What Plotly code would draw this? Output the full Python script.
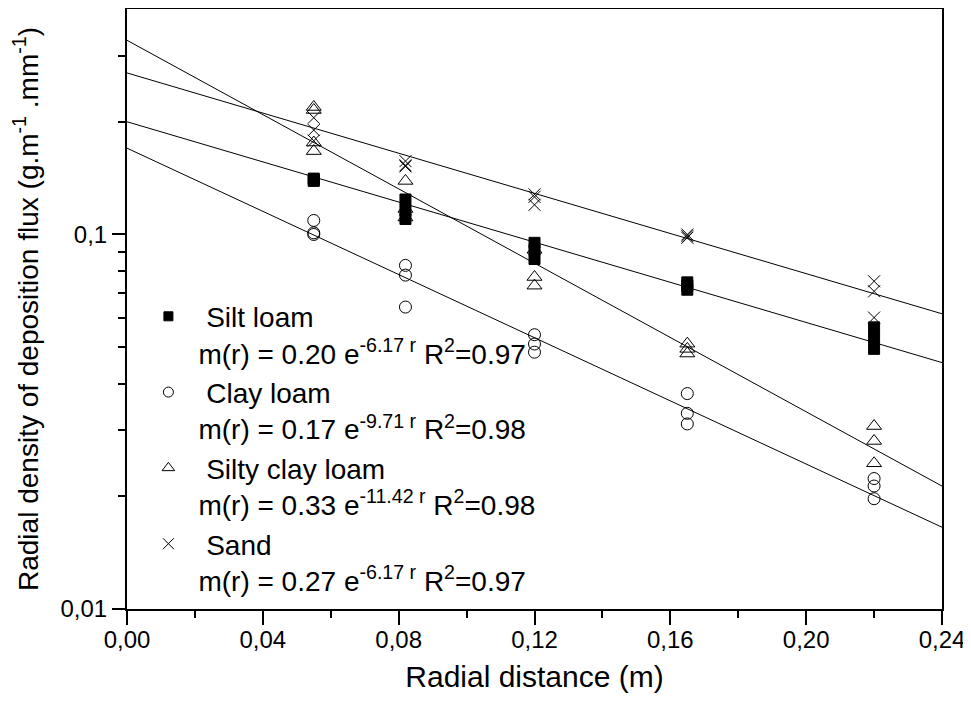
import numpy as np
import plotly.graph_objects as go

# ---- data ----
silt_r = [0.055, 0.055, 0.055, 0.082, 0.082, 0.082, 0.12, 0.12, 0.12, 0.165, 0.165, 0.165, 0.22, 0.22, 0.22]
silt_m = [0.141, 0.140, 0.139, 0.124, 0.116, 0.110, 0.095, 0.091, 0.086, 0.0745, 0.073, 0.0712, 0.0565, 0.053, 0.0495]

clay_r = [0.055, 0.055, 0.055, 0.082, 0.082, 0.082, 0.12, 0.12, 0.12, 0.165, 0.165, 0.165, 0.22, 0.22, 0.22]
clay_m = [0.109, 0.101, 0.100, 0.0827, 0.0779, 0.064, 0.054, 0.051, 0.0485, 0.0376, 0.0333, 0.0312, 0.0223, 0.0213, 0.0197]

scl_r = [0.055, 0.055, 0.055, 0.055, 0.082, 0.082, 0.082, 0.12, 0.12, 0.12, 0.165, 0.165, 0.165, 0.22, 0.22, 0.22]
scl_m = [0.219, 0.215, 0.176, 0.167, 0.139, 0.117, 0.111, 0.091, 0.077, 0.073, 0.0511, 0.0495, 0.0481, 0.0308, 0.0281, 0.0245]

sand_r = [0.055, 0.055, 0.055, 0.082, 0.082, 0.082, 0.12, 0.12, 0.12, 0.165, 0.165, 0.165, 0.22, 0.22, 0.22]
sand_m = [0.205, 0.190, 0.178, 0.157, 0.153, 0.152, 0.128, 0.126, 0.120, 0.100, 0.099, 0.098, 0.075, 0.0705, 0.060]

# fitted models m(r) = a * exp(-b r)
fit_names = ["Silt loam", "Clay loam", "Silty clay loam", "Sand"]
fit_a = [0.20, 0.17, 0.33, 0.27]
fit_b = [6.17, 9.71, 11.42, 6.17]
fit_r2 = [0.97, 0.98, 0.98, 0.97]
fit_range = [0.0, 0.24]

x_ticks = [0.0, 0.04, 0.08, 0.12, 0.16, 0.20, 0.24]
y_ticks = [0.01, 0.1]
y_ticktext = ["0,01", "0,1"]
y_minor = [0.02, 0.03, 0.04, 0.05, 0.06, 0.07, 0.08, 0.09, 0.2, 0.3]

FONT = "Liberation Sans, Arial, sans-serif"

fig = go.Figure()

# fitted lines
for a, b in zip(fit_a, fit_b):
    xs = np.array(fit_range)
    fig.add_trace(go.Scatter(x=xs, y=a * np.exp(-b * xs), mode="lines",
                             line=dict(color="black", width=1), showlegend=False,
                             hoverinfo="skip"))

series = [
    (silt_r, silt_m, "square", 11, 1),
    (clay_r, clay_m, "circle-open", 12, 1),
    (scl_r, scl_m, "triangle-up-open", 13, 1),
    (sand_r, sand_m, "x-thin-open", 12, 1),
]
leg_sizes = [9, 10, 11, 11]

for (rr, mm, sym, sz, lw), name, a, b, r2, lsz in zip(series, fit_names, fit_a, fit_b, fit_r2, leg_sizes):
    fig.add_trace(go.Scatter(x=rr, y=mm, mode="markers",
                             marker=dict(symbol=sym, size=sz, color="black",
                                         line=dict(color="black", width=lw)),
                             showlegend=False))
    label = ("&nbsp;" + name + "<br>m(r) = %.2f e<sup>-%.2f r</sup> R<sup>2</sup>=%.2f" % (a, b, r2))
    fig.add_trace(go.Scatter(x=[None], y=[None], mode="markers", name=label,
                             marker=dict(symbol=sym, size=lsz, color="black",
                                         line=dict(color="black", width=1))))

fig.update_layout(
    width=971, height=704,
    margin=dict(l=119, r=37, t=1, b=103, autoexpand=False),
    paper_bgcolor="white", plot_bgcolor="white",
    separators=",.",
    font=dict(family=FONT, color="black"),
    showlegend=True,
    legend=dict(x=0.014, y=0.529, xanchor="left", yanchor="top",
                bgcolor="rgba(0,0,0,0)", borderwidth=0,
                font=dict(size=28, family=FONT, color="black"),
                valign="top", itemwidth=50, tracegroupgap=0),
)

fig.update_xaxes(
    range=[0, 0.24], tickmode="array", tickvals=x_ticks, tickformat=".2f",
    ticks="outside", ticklen=14, tickwidth=2, tickcolor="black",
    showline=True, linewidth=2, linecolor="black", mirror=True,
    showgrid=False, zeroline=False, automargin=False,
    tickfont=dict(size=24, family=FONT), ticklabelstandoff=-6,
    title=dict(text="Radial distance (m)", font=dict(size=30, family=FONT), standoff=14),
    minor=dict(ticks="outside", ticklen=7, tickwidth=2, tickcolor="black", dtick=0.02, tick0=0.0, showgrid=False),
)
fig.update_yaxes(
    type="log", range=[-2, np.log10(0.4)], tickmode="array", tickvals=y_ticks, ticktext=y_ticktext,
    ticks="outside", ticklen=13, tickwidth=2, tickcolor="black",
    showline=True, linewidth=2, linecolor="black", mirror=True,
    showgrid=False, zeroline=False, automargin=False,
    tickfont=dict(size=24, family=FONT), ticklabelstandoff=0,
    title=dict(text="Radial density of deposition flux (g.m<sup>-1</sup> .mm<sup>-1</sup>)",
               font=dict(size=28, family=FONT)),
    minor=dict(ticks="outside", ticklen=7, tickwidth=2, tickcolor="black", tickvals=y_minor, showgrid=False),
)

fig.write_html("out.html")
